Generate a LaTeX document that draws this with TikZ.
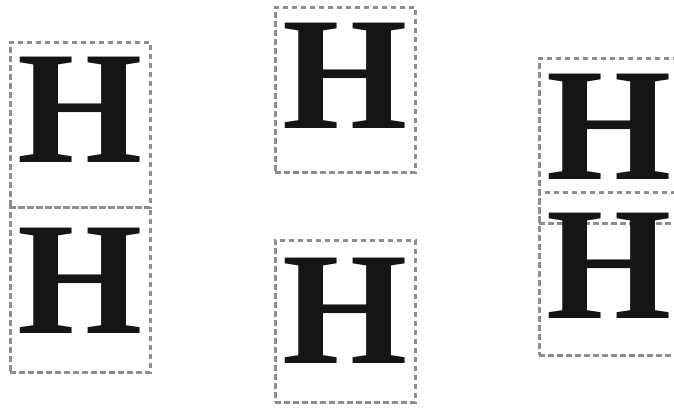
\documentclass[tikz,border=0pt]{standalone}
\usepackage{fontspec}
\setmainfont{Liberation Serif}
\definecolor{dashgray}{HTML}{8E8E8E}
\definecolor{glyph}{HTML}{151515}
\begin{document}
\begin{tikzpicture}[x=1pt,y=-1pt,
  hbox/.style={draw=dashgray, line width=3pt, dash pattern=on 5.5pt off 3.5pt,
    minimum width=140pt, minimum height=165pt, inner sep=0pt, outer sep=0pt},
  letter/.style={anchor=base, inner sep=0pt, text=glyph,
    font=\fontsize{161}{161}\selectfont\bfseries}]
\useasboundingbox (0,0) rectangle (674,410);
\clip (0,0) rectangle (674,410);
% boxes
\node[hbox] (L1) at (80,124.5) {};
\node[hbox] (L2) at (80,289.5) {};
\node[hbox] (M1) at (345,89.5) {};
\node[hbox, minimum height=162pt] (M2) at (345,321) {};
\node[hbox] (R1) at (609,140.5) {};
\node[hbox, minimum height=163pt] (R2) at (609,273.5) {};
% letters
\node[letter] (hL1) at (80,162) {H};
\node[letter] (hL2) at (80,333) {H};
\node[letter] (hM1) at (345,128) {H};
\node[letter] (hM2) at (345,363) {H};
\node[letter] (hR1) at (609,179) {H};
\node[letter] (hR2) at (609,318) {H};
\end{tikzpicture}
\end{document}
